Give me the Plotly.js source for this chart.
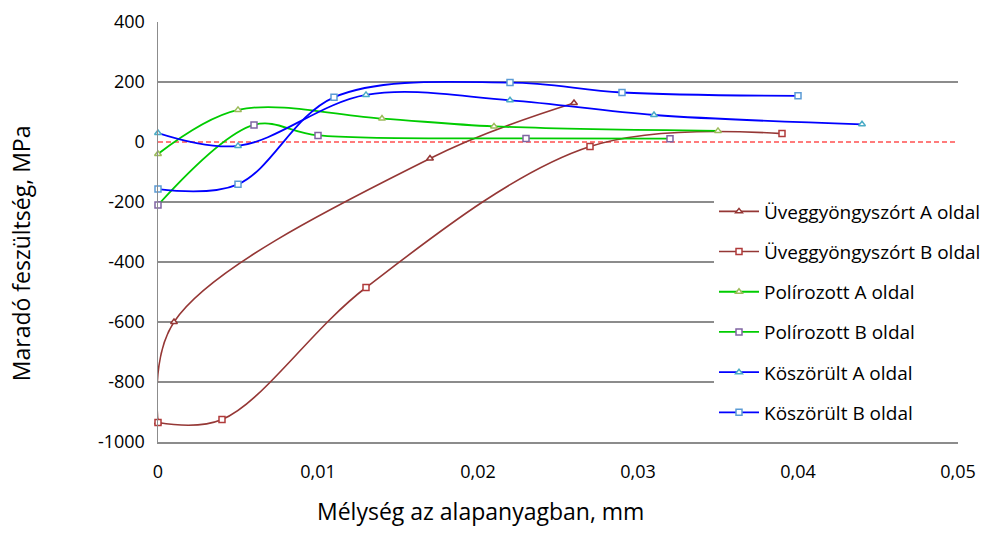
<!DOCTYPE html>
<html>
<head>
<meta charset="utf-8">
<script src="https://cdn.plot.ly/plotly-3.0.1.min.js"></script>
<style>html,body{margin:0;padding:0;background:#fff;}#chart{width:984px;height:534px;}</style>
</head>
<body>
<div id="chart"></div>
<script>
// Data
const seriesNames = ["Üveggyöngyszórt A oldal","Üveggyöngyszórt B oldal","Polírozott A oldal","Polírozott B oldal","Köszörült A oldal","Köszörült B oldal"];
const uvegA_x = [0, 0.001, 0.017, 0.026];
const uvegA_y = [-935, -600, -55, 130];
const uvegB_x = [0, 0.004, 0.013, 0.027, 0.039];
const uvegB_y = [-935, -925, -485, -15, 28];
const polA_x = [0, 0.005, 0.014, 0.021, 0.035];
const polA_y = [-40, 107, 78, 52, 37];
const polB_x = [0, 0.006, 0.010, 0.023, 0.032];
const polB_y = [-210, 57, 22, 12, 11];
const koszA_x = [0, 0.005, 0.013, 0.022, 0.031, 0.044];
const koszA_y = [30, -13, 157, 139, 90, 59];
const koszB_x = [0, 0.005, 0.011, 0.022, 0.029, 0.040];
const koszB_y = [-157, -141, 149, 198, 165, 154];
const refLine_x = [0, 0.05];
const refLine_y = [0, 0];
const xTicks = [0, 0.01, 0.02, 0.03, 0.04, 0.05];
const yTicks = [-1000, -800, -600, -400, -200, 0, 200, 400];
const yTickLabels = ["-1000", "-800", "-600", "-400", "-200", "0", "200", "400"];

const FONT = "'Open Sans', 'Noto Sans', sans-serif";

function series(i, xs, ys, lineColor, markerColor, symbol, w) {
  return {
    x: xs, y: ys, name: seriesNames[i], type: 'scatter', mode: 'lines+markers',
    line: {color: lineColor, width: w, shape: 'spline', smoothing: 1},
    marker: {symbol: symbol, size: 6, color: '#ffffff', line: {color: markerColor, width: 1.5}},
    cliponaxis: false, legendgroup: 'g' + i
  };
}

const traces = [
  // white underlay hides the gray gridline at 0 so the red dashes sit on white
  {x: refLine_x, y: refLine_y, type: 'scatter', mode: 'lines', showlegend: false,
   line: {color: '#ffffff', width: 2.5}, hoverinfo: 'skip'},
  {x: refLine_x, y: refLine_y, type: 'scatter', mode: 'lines', showlegend: false,
   line: {color: '#ff5050', width: 1.5, dash: '5px,3px'}, hoverinfo: 'skip'},
  series(0, uvegA_x, uvegA_y, '#953735', '#953735', 'triangle-up', 1.6),
  series(1, uvegB_x, uvegB_y, '#953735', '#b03a3a', 'square', 1.6),
  series(2, polA_x, polA_y, '#00cc00', '#9bbb59', 'triangle-up', 1.8),
  series(3, polB_x, polB_y, '#00cc00', '#8064a2', 'square', 1.8),
  series(4, koszA_x, koszA_y, '#0000ff', '#4bacc6', 'triangle-up', 1.8),
  series(5, koszB_x, koszB_y, '#0000ff', '#5b9bd5', 'square', 1.8)
];

const layout = {
  width: 984, height: 534,
  margin: {l: 158, r: 26, t: 22, b: 92, autoexpand: false},
  paper_bgcolor: '#ffffff', plot_bgcolor: '#ffffff',
  separators: ', ',
  font: {family: FONT, size: 18, color: '#000000'},
  showlegend: true,
  legend: {
    x: 0.695, y: 0.594, xanchor: 'left', yanchor: 'top',
    bgcolor: '#ffffff', borderwidth: 0,
    font: {family: FONT, size: 19, color: '#000000'},
    tracegroupgap: 12.5, itemwidth: 40
  },
  xaxis: {
    range: [0, 0.05], tickvals: xTicks, showgrid: false, zeroline: false,
    showline: true, linecolor: '#8c8c8c', linewidth: 1.5,
    ticks: '', ticklabelstandoff: 13,
    tickfont: {family: FONT, size: 18, color: '#000'}
  },
  yaxis: {
    range: [-1000, 400], tickvals: yTicks, ticktext: yTickLabels, showgrid: true, gridcolor: '#8c8c8c', gridwidth: 1.3,
    zeroline: false, showline: true, linecolor: '#8c8c8c', linewidth: 1.5,
    ticks: '', ticklabelstandoff: 8,
    tickfont: {family: FONT, size: 18, color: '#000'}
  },
  annotations: [
    {text: 'Mélység az alapanyagban, mm', xref: 'paper', yref: 'paper', x: 0.403, y: -0.165,
     xanchor: 'center', yanchor: 'middle', showarrow: false, font: {family: FONT, size: 23, color: '#000'}},
    {text: 'Maradó feszültség, MPa', xref: 'paper', yref: 'paper', x: -0.171, y: 0.45,
     xanchor: 'center', yanchor: 'middle', textangle: -90, showarrow: false, font: {family: FONT, size: 23, color: '#000'}}
  ]
};

Plotly.newPlot('chart', traces, layout, {displayModeBar: false, staticPlot: true});
</script>
</body>
</html>
